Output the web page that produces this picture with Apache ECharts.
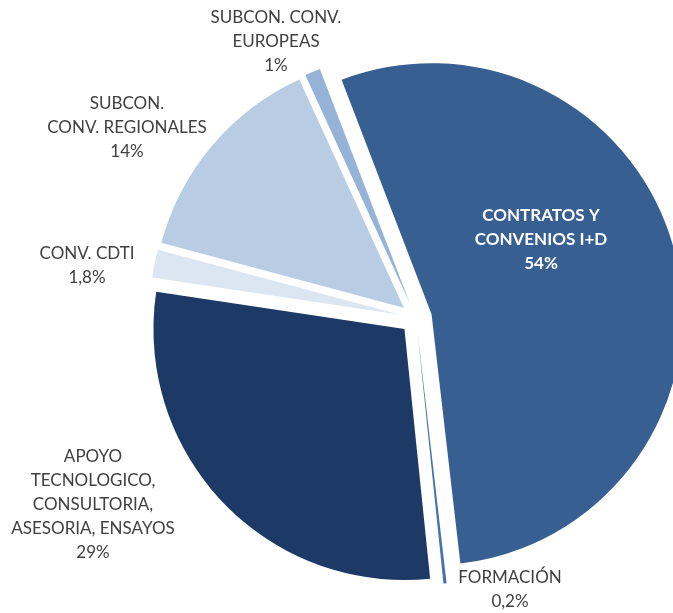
<!DOCTYPE html>
<html>
<head>
<meta charset="utf-8">
<script src="https://cdn.jsdelivr.net/npm/echarts@6/dist/echarts.min.js"></script>
<style>
  html, body { margin: 0; padding: 0; background: #fff; }
  #main { width: 673px; height: 613px; }
</style>
</head>
<body>
<div id="main"></div>
<script>
// datos del gráfico (sentido horario desde arriba)
var categories = [
  'CONTRATOS Y\nCONVENIOS I+D',
  'FORMACIÓN',
  'APOYO\nTECNOLOGICO,\nCONSULTORIA,\nASESORIA, ENSAYOS',
  'CONV. CDTI',
  'SUBCON.\nCONV. REGIONALES',
  'SUBCON. CONV.\nEUROPEAS'
]
var values = [54, 0.2, 29, 1.8, 14, 1]
var colors = ['#375f92', '#4673ad', '#1c3a65', '#dce6f2', '#b8cce4', '#95b3d7']

// centro de cada etiqueta (px)
var labelPos = [
  [541, 240],
  [510, 590],
  [93, 505],
  [87, 266],
  [127, 128],
  [276, 42]
]

var pieCenter = [416, 318]
var pieRadius = 251

var myChart = echarts.init(document.getElementById('main'))

// sectores separados (sin etiquetas)
var sliceData = categories.map(function (name, i) {
  return {
    name: name,
    value: values[i],
    selected: true,
    itemStyle: { color: colors[i] }
  }
})

// misma geometría, transparente, solo para las etiquetas
// (con selected las etiquetas no respetan labelLayout)
var labelData = categories.map(function (name, i) {
  var item = { name: name, value: values[i] }
  if (i === 0) {
    item.label = { color: '#ffffff', fontWeight: 'bold' }
  }
  return item
})

var option = {
  animation: false,
  series: [
    {
      type: 'pie',
      center: pieCenter,
      radius: [0, pieRadius],
      startAngle: 111,
      clockwise: true,
      selectedMode: 'multiple',
      selectedOffset: 16,
      emphasis: { disabled: true },
      label: { show: false },
      labelLine: { show: false },
      data: sliceData
    },
    {
      type: 'pie',
      center: pieCenter,
      radius: [0, pieRadius],
      startAngle: 111,
      clockwise: true,
      silent: true,
      selectedMode: false,
      avoidLabelOverlap: false,
      emphasis: { disabled: true },
      itemStyle: { color: 'rgba(0,0,0,0)' },
      label: {
        show: true,
        position: 'outside',
        fontFamily: 'Lato',
        fontSize: 17,
        lineHeight: 24,
        color: '#404040',
        formatter: function (p) {
          return p.name + '\n' + String(p.value).replace('.', ',') + '%'
        }
      },
      labelLine: { show: false },
      labelLayout: function (p) {
        var pos = labelPos[p.dataIndex]
        return { x: pos[0], y: pos[1], align: 'center', verticalAlign: 'middle' }
      },
      data: labelData
    }
  ]
}

myChart.setOption(option)
</script>
</body>
</html>
